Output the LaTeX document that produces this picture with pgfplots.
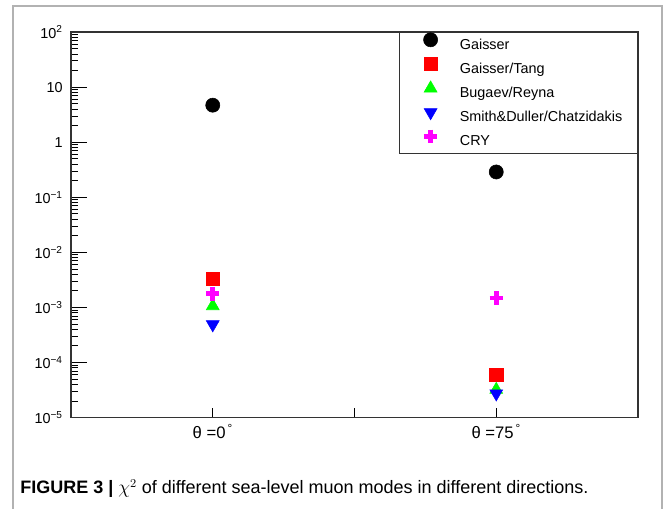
\documentclass[border=0pt]{standalone}
\usepackage{fontspec}
\setmainfont{Liberation Sans}
\usepackage{pgfplots}
\pgfplotsset{compat=1.18}
\definecolor{rootgreen}{RGB}{0,255,0}
\definecolor{rootmagenta}{RGB}{255,0,255}
\definecolor{rootred}{RGB}{255,0,0}
\definecolor{rootblue}{RGB}{0,0,255}

\begin{document}
\begin{tikzpicture}
\useasboundingbox (0,0) rectangle (497.25pt,381.75pt);
% figure frame
\draw[gray!60, line width=1pt] (9.75pt,0) -- (9.75pt,377.25pt) -- (496.5pt,377.25pt) -- (496.5pt,0);

\begin{axis}[
  at={(53.25pt,68.6pt)}, anchor=south west,
  scale only axis, width=425.25pt, height=289.1pt,
  ymode=log, ymin=1e-5, ymax=1e2,
  xmin=-0.5, xmax=1.5,
  axis line style={black!80, line width=1pt},
  tick pos=left, tick align=inside,
  xtick={0,0.5,1},
  xticklabels={θ =0\textsuperscript{\,°}, , θ =75\textsuperscript{\,°}},
  ytick={1e-5,1e-4,1e-3,1e-2,1e-1,1,10,100},
  yticklabels={10\textsuperscript{−5},10\textsuperscript{−4},10\textsuperscript{−3},10\textsuperscript{−2},10\textsuperscript{−1},1,10,10\textsuperscript{2}},
  minor ytick={2e-5,3e-5,4e-5,5e-5,6e-5,7e-5,8e-5,9e-5,
               2e-4,3e-4,4e-4,5e-4,6e-4,7e-4,8e-4,9e-4,
               2e-3,3e-3,4e-3,5e-3,6e-3,7e-3,8e-3,9e-3,
               2e-2,3e-2,4e-2,5e-2,6e-2,7e-2,8e-2,9e-2,
               0.2,0.3,0.4,0.5,0.6,0.7,0.8,0.9,
               2,3,4,5,6,7,8,9,
               20,30,40,50,60,70,80,90},
  major tick length=12pt, minor tick length=5.5pt,
  x tick style={/pgfplots/major tick length=7.5pt},
  major tick style={black, line width=0.8pt},
  minor tick style={black, line width=0.6pt},
  yticklabel style={font=\fontsize{10.8}{12}\selectfont, inner sep=0pt, xshift=-6pt},
  xticklabel style={font=\fontsize{12.5}{14}\selectfont, inner sep=0pt, yshift=-5pt},
  legend cell align=left,
  legend image post style={line width=0.4pt},
  legend image code/.code={\path (-12pt,3.8pt) (21.75pt,3.8pt); \draw[#1] plot coordinates {(0pt,3.8pt)};},
  legend style={at={(1,1)}, anchor=north east, draw=black!80, line width=1pt,
    inner xsep=11.25pt, inner ysep=0pt, row sep=0pt,
    font=\fontsize{10.8}{13}\selectfont,
    nodes={inner sep=0pt, minimum height=18pt}},
]
% Gaisser
\addplot[only marks, mark=*, black, mark size=5.3pt] coordinates {(0,4.7) (1,0.288)};
% Gaisser/Tang
\addplot[only marks, mark=square*, rootred, mark size=5pt] coordinates {(0,3.33e-3) (1,5.9e-5)};
% Bugaev/Reyna
\addplot[only marks, mark=triangle*, rootgreen, mark size=5.6pt] coordinates {(0,1.06e-3) (1,3.2e-5)};
% Smith&Duller/Chatzidakis
\addplot[only marks, mark=triangle*, rootblue, mark size=5.6pt, mark options={rotate=180}] coordinates {(0,4.9e-4) (1,2.73e-5)};
% CRY
\addplot[only marks, mark=+, rootmagenta, mark size=5pt, mark options={line width=3.6pt}] coordinates {(0,1.76e-3) (1,1.48e-3)};
\legend{Gaisser, Gaisser/Tang, Bugaev/Reyna, Smith\&Duller/Chatzidakis, CRY}
\end{axis}

\node[anchor=base west, inner sep=0pt, font=\fontsize{13.5}{15}\selectfont] at (15pt,11.25pt)
  {\textbf{FIGURE 3 |} $\chi^2$ of different sea-level muon modes in different directions.};
\end{tikzpicture}
\end{document}
